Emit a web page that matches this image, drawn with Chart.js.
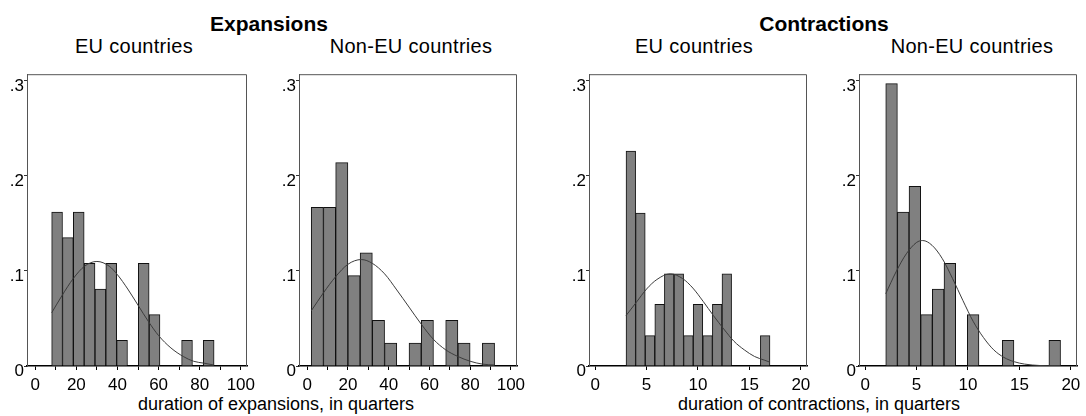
<!DOCTYPE html>
<html>
<head>
<meta charset="utf-8">
<script src="https://cdn.jsdelivr.net/npm/chart.js@4.4.0/dist/chart.umd.min.js"></script>
<style>
  body { margin: 0; background: #fff; width: 1086px; height: 416px; overflow: hidden; position: relative;
         font-family: "Liberation Sans", Arial, sans-serif; }
  .t { position: absolute; text-align: center; white-space: nowrap; line-height: 1; color: #000; }
  .h { font-size: 21px; font-weight: bold; top: 13px; width: 400px; }
  .s { font-size: 20px; top: 36px; width: 300px; letter-spacing: 0.3px; }
  .a { font-size: 18px; top: 395px; width: 400px; }
  canvas { position: absolute; top: 64px; }
</style>
</head>
<body>
<div class="t h" style="left:69px">Expansions</div>
<div class="t h" style="left:624px">Contractions</div>
<div class="t s" style="left:-16px">EU countries</div>
<div class="t s" style="left:261px">Non-EU countries</div>
<div class="t s" style="left:544px">EU countries</div>
<div class="t s" style="left:822px">Non-EU countries</div>
<div class="t a" style="left:76px">duration of expansions, in quarters</div>
<div class="t a" style="left:619px">duration of contractions, in quarters</div>

<canvas id="p1"></canvas>
<canvas id="p2"></canvas>
<canvas id="p3"></canvas>
<canvas id="p4"></canvas>

<script>
// histogram ranges (first and last bin edge) and bar heights (fraction), 15 bins each
var expEuRange = [8, 87];
var expEuFrac = [0.162, 0.135, 0.162, 0.108, 0.081, 0.108, 0.027, 0, 0.108, 0.054, 0, 0, 0.027, 0, 0.027];
var expNonEuRange = [2, 92];
var expNonEuFrac = [0.167, 0.167, 0.214, 0.095, 0.119, 0.048, 0.024, 0, 0.024, 0.048, 0, 0.048, 0.024, 0, 0.024];
var conEuRange = [3, 17];
var conEuFrac = [0.226, 0.161, 0.032, 0.065, 0.097, 0.097, 0.032, 0.065, 0.032, 0.065, 0.097, 0, 0, 0, 0.032];
var conNonEuRange = [2, 19];
var conNonEuFrac = [0.297, 0.162, 0.189, 0.054, 0.081, 0.108, 0, 0.054, 0, 0, 0.027, 0, 0, 0, 0.027];

// normal density overlays
var expEuCurveX = [8, 13, 18.5, 24, 30, 36, 40, 45, 50, 55, 60, 66, 72, 77, 82, 87];
var expEuCurveY = [0.056, 0.074, 0.092, 0.105, 0.110, 0.105, 0.096, 0.081, 0.064, 0.047, 0.032, 0.019, 0.010, 0.005, 0.003, 0.001];
var expNonEuCurveX = [2, 8, 14, 20, 26.6, 32, 38, 44, 50, 56, 62, 68, 74, 80, 86, 92];
var expNonEuCurveY = [0.058, 0.077, 0.094, 0.107, 0.112, 0.108, 0.097, 0.080, 0.062, 0.044, 0.028, 0.017, 0.010, 0.005, 0.002, 0.001];
var conEuCurveX = [3, 4, 5, 6, 7.3, 8.5, 9.5, 10.5, 11.5, 12.5, 13.5, 14.5, 15.5, 16.5, 17];
var conEuCurveY = [0.053, 0.067, 0.081, 0.091, 0.097, 0.092, 0.082, 0.068, 0.053, 0.039, 0.026, 0.017, 0.010, 0.006, 0.004];
var conNonEuCurveX = [2, 3, 4, 5, 5.6, 6.5, 7.5, 8.5, 9.5, 10.5, 11.5, 12.5, 13.5, 14.5, 15.5, 17, 19];
var conNonEuCurveY = [0.076, 0.099, 0.118, 0.130, 0.132, 0.127, 0.113, 0.092, 0.069, 0.047, 0.030, 0.017, 0.009, 0.0045, 0.002, 0.0005, 0.0001];

var yTicks = [0, 0.1, 0.2, 0.3];

var font = { family: '"Liberation Sans", Arial, sans-serif', size: 17 };

// top + right edges of the plot box
var framePlugin = {
    id: 'frame',
    afterDatasetsDraw: function(chart) {
        var ctx = chart.ctx, a = chart.chartArea;
        ctx.save();
        ctx.strokeStyle = '#555';
        ctx.lineWidth = 1;
        ctx.beginPath();
        ctx.moveTo(a.left, a.top + 0.5);
        ctx.lineTo(a.right - 0.5, a.top + 0.5);
        ctx.lineTo(a.right - 0.5, a.bottom);
        ctx.stroke();
        ctx.restore();
    }
};

function makePanel(id, left, right, range, frac, cx, cy, xMax, step, labelEvery) {
    var canvas = document.getElementById(id);
    var w = right - left + 27 + 20;
    canvas.width = w;
    canvas.height = 332;
    canvas.style.left = (left - 27) + 'px';
    canvas.style.width = w + 'px';
    canvas.style.height = '332px';

    var binW = (range[1] - range[0]) / frac.length;
    var bars = frac.map(function(v, i) { return { x: range[0] + (i + 0.5) * binW, y: v }; });
    var curve = cx.map(function(x, i) { return { x: x, y: cy[i] }; });

    new Chart(canvas, {
        type: 'bar',
        data: {
            datasets: [{
                type: 'line',
                data: curve,
                borderColor: '#3c3c3c',
                borderWidth: 1,
                pointRadius: 0,
                cubicInterpolationMode: 'monotone',
                order: 0
            }, {
                type: 'bar',
                data: bars,
                backgroundColor: '#808080',
                borderColor: '#111',
                borderWidth: 1,
                barPercentage: 1,
                categoryPercentage: 1,
                order: 1
            }]
        },
        options: {
            responsive: false,
            animation: false,
            layout: { padding: { top: 10, right: 20, left: 0, bottom: 0 } },
            plugins: { legend: { display: false }, tooltip: { enabled: false } },
            scales: {
                x: {
                    type: 'linear',
                    offset: false,
                    min: xMax === 103 ? -4 : -0.6,
                    max: xMax,
                    afterFit: function(s) { s.height = 30; },
                    border: { color: '#000', width: 1.5 },
                    grid: { drawOnChartArea: false, offset: false, tickLength: 4, color: '#000' },
                    ticks: {
                        stepSize: step,
                        includeBounds: false,
                        autoSkip: false,
                        maxRotation: 0,
                        padding: 5,
                        color: '#000',
                        font: font,
                        callback: function(v) { return Math.round(v) % labelEvery === 0 ? Math.round(v) : ''; }
                    }
                },
                y: {
                    min: yTicks[0],
                    max: 0.307,
                    afterFit: function(s) { s.width = 27; },
                    border: { color: '#555', width: 1 },
                    grid: { drawOnChartArea: false, tickLength: 3, color: '#333' },
                    ticks: {
                        stepSize: yTicks[1],
                        includeBounds: false,
                        padding: 0,
                        labelOffset: 5,
                        color: '#000',
                        font: font,
                        callback: function(v) { return v === 0 ? '0' : '.' + Math.round(v * 10); }
                    }
                }
            }
        },
        plugins: [framePlugin]
    });
}

document.addEventListener('DOMContentLoaded', function() {
    makePanel('p1', 27, 247, expEuRange, expEuFrac, expEuCurveX, expEuCurveY, 103, 10, 20);
    makePanel('p2', 299, 517, expNonEuRange, expNonEuFrac, expNonEuCurveX, expNonEuCurveY, 103, 10, 20);
    makePanel('p3', 589, 807, conEuRange, conEuFrac, conEuCurveX, conEuCurveY, 20.6, 5, 5);
    makePanel('p4', 859, 1077, conNonEuRange, conNonEuFrac, conNonEuCurveX, conNonEuCurveY, 20.6, 5, 5);
});
</script>
</body>
</html>
